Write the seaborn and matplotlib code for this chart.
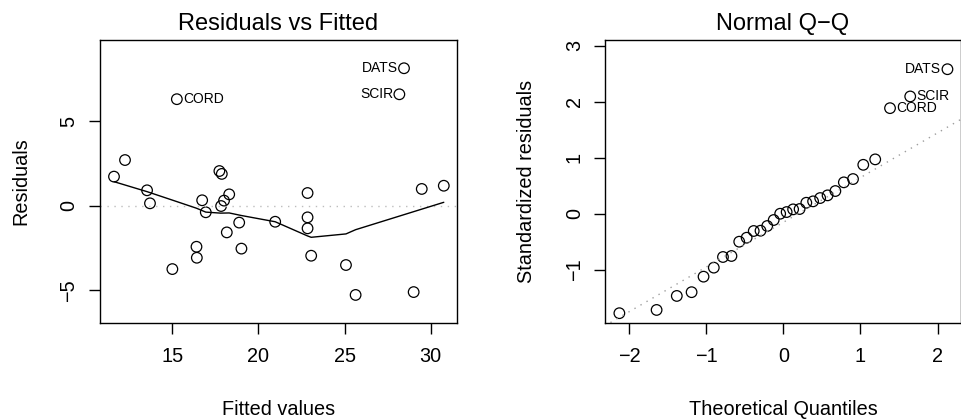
import numpy as np
import pandas as pd
import seaborn as sns
from matplotlib import pyplot as plt

fitted = [11.61, 12.25, 13.53, 13.70, 15.00, 15.26, 16.40, 16.42, 16.73, 16.94,
          17.73, 17.87, 17.83, 18.00, 18.30, 18.16, 18.88, 19.01, 20.97, 22.85,
          22.85, 22.85, 23.06, 25.08, 25.64, 28.45, 28.18, 29.01, 29.48, 30.76]
residuals = [1.72, 2.70, 0.91, 0.14, -3.75, 6.30, -2.43, -3.08, 0.32, -0.39,
             2.05, 1.88, -0.02, 0.30, 0.67, -1.58, -1.00, -2.54, -0.95, 0.75,
             -0.69, -1.34, -2.96, -3.51, -5.28, 8.13, 6.59, -5.11, 0.99, 1.18]
resid_ids = {5: "CORD", 25: "DATS", 26: "SCIR"}

# Curva suavizada (lowess)
smooth_x = [11.61, 13.53, 15.00, 16.40, 16.94, 17.80, 18.30, 19.00, 20.97,
            22.85, 23.06, 25.08, 25.64, 30.76]
smooth_y = [1.42, 0.83, 0.33, -0.15, -0.38, -0.44, -0.43, -0.58, -0.95,
            -1.79, -1.87, -1.67, -1.42, 0.20]

# Valores del gráfico Q-Q normal
theoretical = [-2.128, -1.645, -1.383, -1.191, -1.036, -0.903, -0.784, -0.674,
               -0.573, -0.477, -0.385, -0.297, -0.210, -0.126, -0.042,
               0.042, 0.126, 0.210, 0.297, 0.385, 0.477, 0.573, 0.674,
               0.784, 0.903, 1.036, 1.191, 1.383, 1.645, 2.128]
std_resid = [-1.775, -1.717, -1.467, -1.400, -1.123, -0.962, -0.772, -0.754,
             -0.499, -0.428, -0.308, -0.303, -0.219, -0.112, 0.000,
             0.030, 0.078, 0.084, 0.196, 0.221, 0.280, 0.328, 0.405,
             0.560, 0.619, 0.873, 0.970, 1.884, 2.093, 2.579]
qq_ids = {27: ("CORD", "right"), 28: ("SCIR", "right"), 29: ("DATS", "left")}

sns.set_theme(style="ticks")
plt.rcParams['font.family'] = ['Liberation Sans', 'DejaVu Sans']
plt.rcParams['axes.unicode_minus'] = True
plt.rcParams['text.color'] = 'black'
plt.rcParams['axes.labelcolor'] = 'black'

fig = plt.figure(figsize=(9.61, 4.19), dpi=100)
ax1 = fig.add_axes([0.1041, 0.2291, 0.3715, 0.6754])
ax2 = fig.add_axes([0.6299, 0.2291, 0.3698, 0.6754])

df1 = pd.DataFrame({"fitted": fitted, "resid": residuals})
df_s = pd.DataFrame({"x": smooth_x, "y": smooth_y})
df2 = pd.DataFrame({"q": theoretical, "r": std_resid})

circ = dict(facecolor="none", edgecolor="black", linewidth=0.9, s=58, marker="o")
lab_size = 14.3
tick_size = 14.3

# Residuos vs ajustados
ax1.axhline(0, color="#bdbdbd", linestyle=(0, (1, 4)), linewidth=1)
sns.lineplot(data=df_s, x="x", y="y", ax=ax1, color="black", linewidth=1,
             sort=False, estimator=None)
sns.scatterplot(data=df1, x="fitted", y="resid", ax=ax1, **circ)
for i, name in resid_ids.items():
    ha = "left" if name == "CORD" else "right"
    dx = 4.5 if ha == "left" else -4.5
    ax1.annotate(name, (fitted[i], residuals[i]), xytext=(dx, 0),
                 textcoords="offset points", ha=ha, va="center", fontsize=10)
ax1.set_xlim(10.8, 31.53)
ax1.set_ylim(-6.94, 9.8)
ax1.set_xticks([15, 20, 25, 30])
ax1.set_yticks([-5, 0, 5])
ax1.set_title("Residuals vs Fitted", fontsize=17, pad=7)
ax1.set_xlabel("Fitted values", fontsize=lab_size, labelpad=25)
ax1.set_ylabel("Residuals", fontsize=lab_size, labelpad=21)

# Q-Q normal
q25, q75 = np.percentile(std_resid, [25, 75])
slope = (q75 - q25) / (0.6745 * 2)
inter = q25 + slope * 0.6745
line_x = np.array([-2.4, 2.4])
ax2.plot(line_x, inter + slope * line_x, color="#9e9e9e",
         linestyle=(0, (1, 4)), linewidth=1)
sns.scatterplot(data=df2, x="q", y="r", ax=ax2, **circ)
for i, (name, side) in qq_ids.items():
    ha = "left" if side == "right" else "right"
    dx = 4.5 if ha == "left" else -4.5
    ax2.annotate(name, (theoretical[i], std_resid[i]), xytext=(dx, 0),
                 textcoords="offset points", ha=ha, va="center", fontsize=10)
ax2.set_xlim(-2.31, 2.30)
ax2.set_ylim(-1.95, 3.10)
ax2.set_xticks([-2, -1, 0, 1, 2])
ax2.set_yticks([-1, 0, 1, 2, 3])
ax2.set_title("Normal Q\u2212Q", fontsize=17, pad=7)
ax2.set_xlabel("Theoretical Quantiles", fontsize=lab_size, labelpad=25)
ax2.set_ylabel("Standardized residuals", fontsize=lab_size, labelpad=21)

for ax in (ax1, ax2):
    for sp in ax.spines.values():
        sp.set_visible(True)
        sp.set_color("black")
        sp.set_linewidth(1)
    ax.tick_params(direction="out", length=8, width=1, color="black",
                   labelsize=tick_size, labelcolor="black")
    ax.tick_params(axis="x", pad=9)
    ax.tick_params(axis="y", pad=7.5)
    for lab in ax.get_yticklabels():
        lab.set_rotation(90)
        lab.set_va("center")

fig.savefig("out.png", dpi=100)
